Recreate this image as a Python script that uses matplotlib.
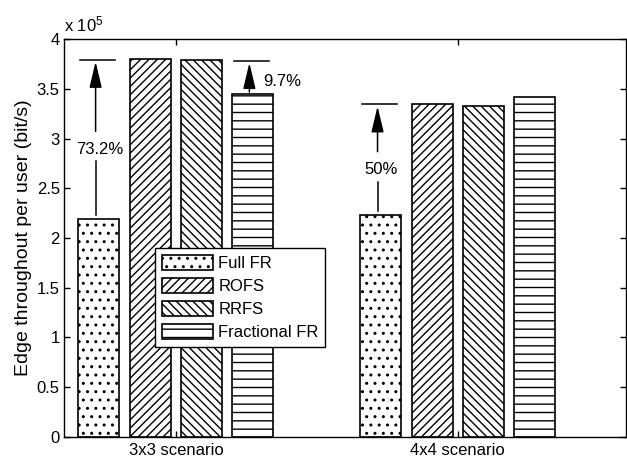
import numpy as np
import matplotlib
matplotlib.use("Agg")
import matplotlib.pyplot as plt
from matplotlib.patches import FancyArrowPatch

plt.rcParams['font.family'] = ['Liberation Sans', 'DejaVu Sans']
plt.rcParams['hatch.linewidth'] = 1.0
plt.rcParams['mathtext.default'] = 'regular'

# Data (values in units of 1e5 bit/s)
scenarios = ["3x3 scenario", "4x4 scenario"]
schemes = ["Full FR", "ROFS", "RRFS", "Fractional FR"]
full_fr = [2.19, 2.23]
rofs = [3.80, 3.35]
rrfs = [3.79, 3.325]
fractional_fr = [3.447, 3.415]
y_ticks = [0, 0.5, 1, 1.5, 2, 2.5, 3, 3.5, 4]

# Gain annotations: (scenario index, scheme index, label, gain)
gains = [(0, 0, "73.2%", 0.732), (0, 3, "9.7%", 0.097), (1, 0, "50%", 0.50)]

series = [full_fr, rofs, rrfs, fractional_fr]
hatches = ['..', '////', '\\\\\\\\', '--']
FS = 12

fig = plt.figure(figsize=(6.27, 4.58), dpi=100)
ax = fig.add_axes([0.102, 0.0459, 0.8966, 0.8689])

x = np.arange(1, len(scenarios) + 1)
n = len(series)
group_width = min(0.8, n / (n + 1.5))
step = group_width / n
bar_w = 0.8 * step
offsets = (np.arange(n) - (n - 1) / 2) * step

for i, (vals, h, name) in enumerate(zip(series, hatches, schemes)):
    ax.bar(x + offsets[i], vals, width=bar_w, facecolor='white',
           edgecolor='black', linewidth=1.2, hatch=h, label=name, zorder=2)

arrow_style = '-|>,head_length=1.6,head_width=0.38'

# Gain arrows with a cap at the target level
for g, s, label, gain in gains:
    base = series[s][g]
    top = base * (1 + gain)
    xc = x[g] + offsets[s] - 0.012
    ax.plot([xc - 0.056, xc + 0.07], [top, top], color='black', lw=1.1, zorder=3)
    if s == 0:
        mid = (base + top) / 2 - 0.07
        gap = 0.15
        ax.plot([xc, xc], [base + 0.04, mid - gap], color='black', lw=1.1, zorder=3)
        arr = FancyArrowPatch((xc, mid + gap), (xc, top - 0.02),
                              arrowstyle=arrow_style, mutation_scale=10,
                              color='black', lw=1.1, shrinkA=0, shrinkB=0, zorder=3)
        ax.add_patch(arr)
        ax.text(xc + 0.013, mid - 0.03, label, ha='center', va='center', fontsize=FS)
    else:
        arr = FancyArrowPatch((xc, base + 0.02), (xc, top - 0.02),
                              arrowstyle=arrow_style, mutation_scale=10,
                              color='black', lw=1.1, shrinkA=0, shrinkB=0, zorder=3)
        ax.add_patch(arr)
        ax.text(xc + 0.05, (base + top) / 2 - 0.045, label, ha='left',
                va='center', fontsize=FS)

ax.set_xlim(0.603, 2.597)
ax.set_ylim(0, 4)
ax.set_xticks(x)
ax.set_xticklabels(scenarios, fontsize=FS)
ax.set_yticks(y_ticks)
ax.set_yticklabels([f"{v:g}" for v in y_ticks], fontsize=FS)
ax.tick_params(direction='in', length=4, width=1.0, top=True, right=True, pad=3)
ax.tick_params(axis='x', pad=4)
for sp in ax.spines.values():
    sp.set_linewidth(1.0)
ax.set_ylabel("Edge throughout per user (bit/s)", fontsize=14, labelpad=3)
ax.text(0.0, 1.012, r"x 10$^{5}$", transform=ax.transAxes, ha='left', va='bottom',
        fontsize=FS)

leg = ax.legend(loc='upper left', bbox_to_anchor=(0.162, 0.475), borderaxespad=0,
                fontsize=FS, handlelength=3.1, handleheight=1.0,
                labelspacing=0.42, handletextpad=0.3, borderpad=0.4,
                fancybox=False, framealpha=1, edgecolor='black')
leg.get_frame().set_linewidth(1.0)
leg.set_zorder(5)

fig.savefig("out.png", dpi=100)
